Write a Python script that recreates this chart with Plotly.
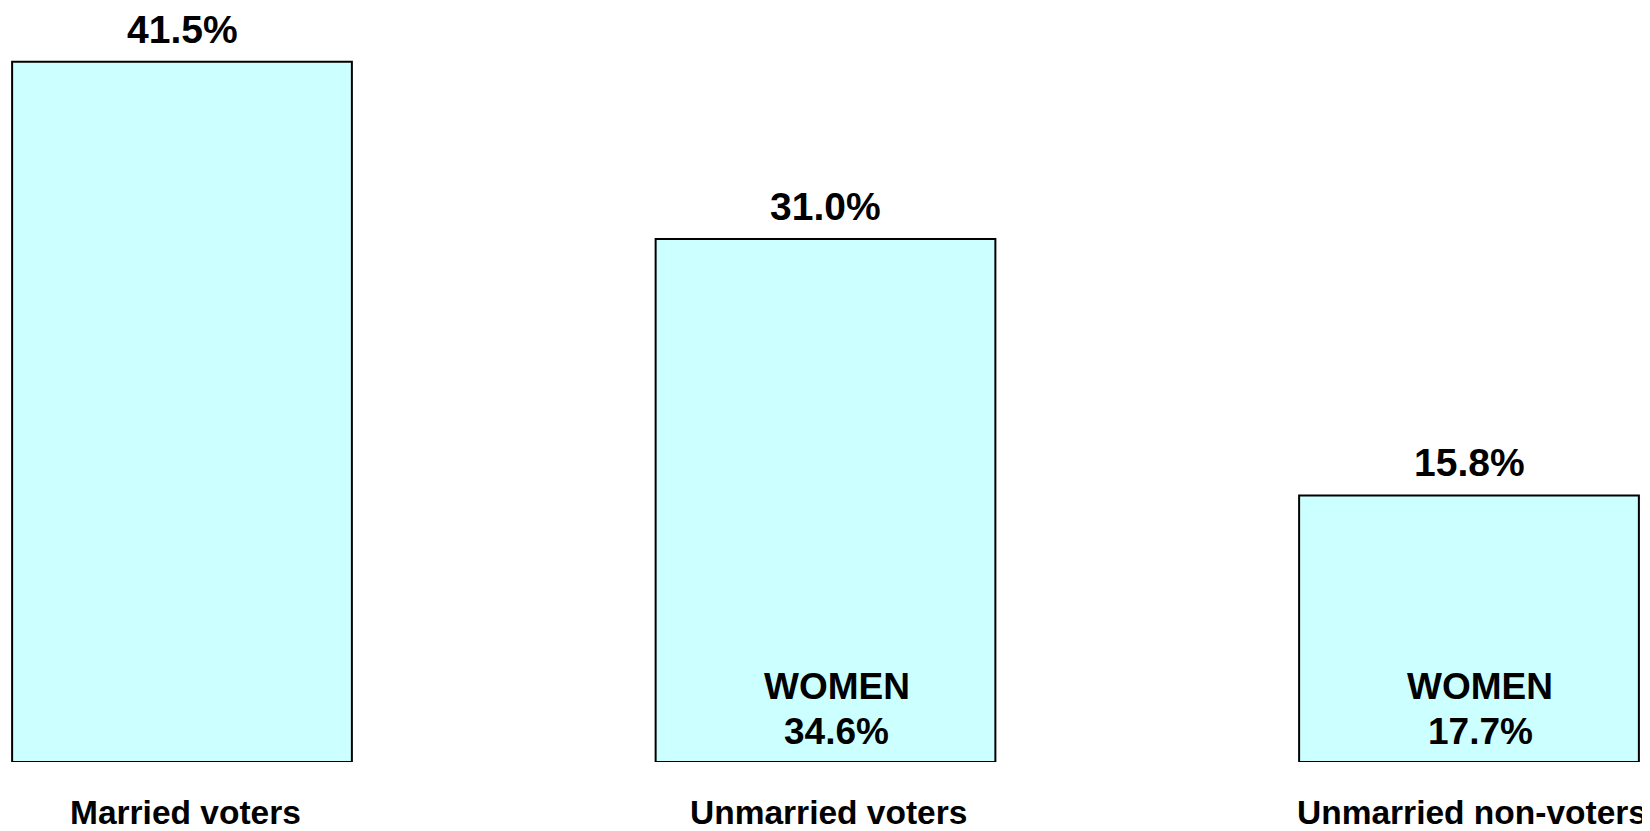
import plotly.graph_objects as go

categories = ["Married voters", "Unmarried voters", "Unmarried non-voters"]
values = [41.5, 31.0, 15.8]
value_labels = ["41.5%", "31.0%", "15.8%"]
women_values = [None, 34.6, 17.7]

FONT = "Liberation Sans, Arial, sans-serif"
# the page body has an 8px default margin, so the figure is drawn 8px in
W, H = 1642, 823

x = list(range(len(categories)))

fig = go.Figure()
fig.add_trace(go.Bar(
    x=x, y=values, width=0.528,
    marker=dict(color="#CCFFFF", line=dict(color="black", width=2)),
    hoverinfo="skip", showlegend=False,
))

annotations = []
for xi, v, lab in zip(x, values, value_labels):
    annotations.append(dict(x=xi, y=v, xref="x", yref="y", text=lab,
                            showarrow=False, yanchor="bottom", yshift=10, borderpad=0,
                            font=dict(family=FONT, size=39, color="black", weight="bold")))
for xi, wv in zip(x, women_values):
    if wv is None:
        continue
    annotations.append(dict(x=xi, y=0, xref="x", yref="y", text="WOMEN",
                            showarrow=False, yanchor="bottom", yshift=53, xshift=11,
                            font=dict(family=FONT, size=37, color="black", weight="bold")))
    annotations.append(dict(x=xi, y=0, xref="x", yref="y", text=f"{wv:.1f}%",
                            showarrow=False, yanchor="bottom", yshift=8, xshift=11,
                            font=dict(family=FONT, size=37, color="black", weight="bold")))
for xi, cat in zip(x, categories):
    annotations.append(dict(x=xi, y=0, xref="x", yref="y", text=cat,
                            showarrow=False, yanchor="top", yshift=-31, xshift=3, borderpad=0,
                            font=dict(family=FONT, size=33.5, color="black", weight="bold")))

px_per_unit = 643.5
r0 = -174 / px_per_unit
r1 = r0 + W / px_per_unit

fig.update_layout(
    width=W, height=H,
    margin=dict(l=0, r=0, t=0, b=69),
    plot_bgcolor="white", paper_bgcolor="white",
    annotations=annotations,
    xaxis=dict(range=[r0, r1], visible=False, showgrid=False, zeroline=False),
    yaxis=dict(range=[0, 754 / 16.875], visible=False, showgrid=False, zeroline=False),
)

fig.write_html("out.html")
